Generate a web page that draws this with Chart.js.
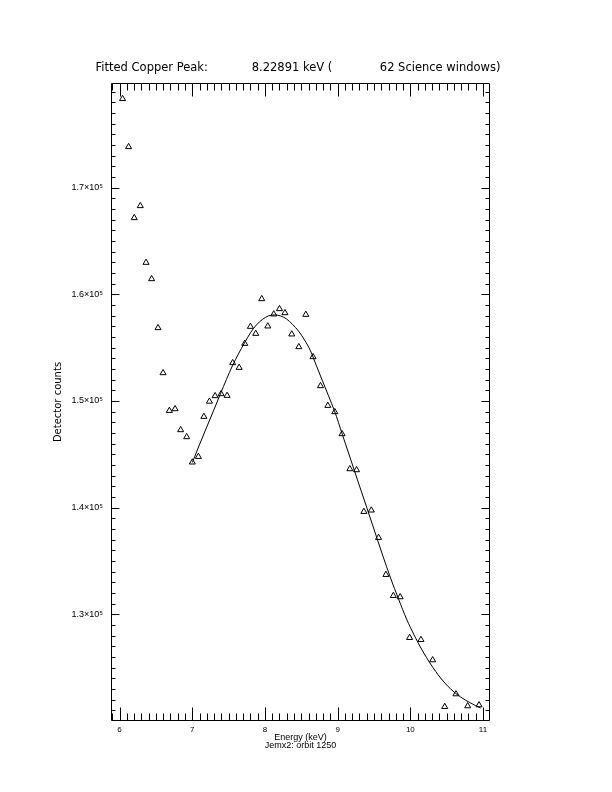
<!DOCTYPE html>
<html>
<head>
<meta charset="utf-8">
<script src="https://cdn.jsdelivr.net/npm/chart.js@4"></script>
<style>
  html, body { margin: 0; padding: 0; background: #fff; }
  canvas { display: block; }
</style>
</head>
<body>
<canvas id="peakChart" width="612" height="792"></canvas>
<script>
// measured spectrum (triangles)
const energies = [6.041, 6.124, 6.202, 6.285, 6.364, 6.441, 6.529, 6.598, 6.685, 6.763,
  6.840, 6.923, 7.001, 7.084, 7.160, 7.236, 7.314, 7.397, 7.479, 7.556,
  7.645, 7.722, 7.800, 7.873, 7.956, 8.039, 8.121, 8.200, 8.275, 8.369,
  8.466, 8.562, 8.661, 8.764, 8.865, 8.961, 9.061, 9.168, 9.260, 9.361,
  9.463, 9.563, 9.664, 9.766, 9.860, 9.990, 10.146, 10.307, 10.473, 10.628,
  10.789, 10.945];
const counts = [178317, 173816, 167159, 168284, 162968, 161439, 156845, 152625, 149090, 149250,
  147281, 146625, 144252, 144777, 148528, 149953, 150469, 150656, 150497, 153563,
  153122, 155373, 156967, 156310, 159564, 157004, 158129, 158626, 158251, 156254,
  155063, 158092, 154126, 151406, 149559, 148969, 146906, 143624, 143530, 139620,
  139752, 137182, 133713, 131744, 131622, 127806, 127618, 125715, 121336, 122527,
  121402, 121496];

// fitted peak curve
const fitEnergies = [7.001, 7.098, 7.194, 7.291, 7.387, 7.470, 7.552, 7.635, 7.718, 7.800,
  7.883, 7.966, 8.048, 8.131, 8.213, 8.296, 8.379, 8.461, 8.544, 8.627,
  8.709, 8.792, 8.875, 8.957, 9.067, 9.177, 9.287, 9.398, 9.508, 9.618,
  9.728, 9.838, 9.948, 10.059, 10.169, 10.279, 10.417, 10.555, 10.692, 10.830,
  10.968];
const fitCounts = [144233, 145874, 147468, 149062, 150656, 152016, 153282, 154407, 155438, 156376,
  157126, 157642, 157970, 158064, 157970, 157689, 157173, 156563, 155720, 154688,
  153282, 151875, 150469, 149062, 146812, 144562, 142311, 140061, 137810, 135560,
  133403, 131434, 129559, 127965, 126559, 125340, 124027, 122996, 122245, 121683,
  121214];

const xTicks = [6, 7, 8, 9, 10, 11];
const yTicks = [130000, 140000, 150000, 160000, 170000];
const xRange = [5.882, 11.096];
const yRange = [120000, 179800];

const titleText = 'Fitted Copper Peak:            8.22891 keV (             62 Science windows)';

// box around the plot with inward ticks on all four sides (IDL style)
const frameTicks = {
  id: 'frameTicks',
  afterDatasetsDraw(chart) {
    const {ctx, chartArea: a, scales: {x, y}} = chart;
    const L = Math.round(a.left) + 0.5, R = Math.round(a.right) - 0.5;
    const T = Math.round(a.top) + 0.5, B = Math.round(a.bottom) - 0.5;
    ctx.save();
    ctx.strokeStyle = '#000';
    ctx.lineWidth = 1;
    ctx.beginPath();
    ctx.rect(L, T, R - L, B - T);
    for (let i = 59; i <= 110; i++) {
      const px = Math.round(x.getPixelForValue(i / 10)) + 0.5;
      const len = i % 10 === 0 ? 13 : 7;
      ctx.moveTo(px, B); ctx.lineTo(px, B - len);
      ctx.moveTo(px, T); ctx.lineTo(px, T + len);
    }
    for (let v = 121; v <= 179; v++) {
      const py = Math.round(y.getPixelForValue(v * 1000)) + 0.5;
      const len = v % 10 === 0 ? 8 : 4;
      ctx.moveTo(L, py); ctx.lineTo(L + len, py);
      ctx.moveTo(R, py); ctx.lineTo(R - len, py);
    }
    ctx.stroke();
    ctx.restore();
  }
};

const ctx = document.getElementById('peakChart').getContext('2d');
const chart = new Chart(ctx, {
  type: 'scatter',
  data: {
    datasets: [{
      label: 'counts',
      data: energies.map((e, i) => ({x: e, y: counts[i]})),
      pointStyle: 'triangle',
      pointRadius: 3.5,
      pointBorderWidth: 1,
      borderColor: '#000',
      backgroundColor: 'rgba(0,0,0,0)',
    }, {
      label: 'fit',
      data: fitEnergies.map((e, i) => ({x: e, y: fitCounts[i]})),
      showLine: true,
      pointRadius: 0,
      borderColor: '#000',
      borderWidth: 1,
      cubicInterpolationMode: 'monotone',
    }]
  },
  options: {
    responsive: false,
    animation: false,
    layout: { padding: { left: 0, right: 16, top: 0, bottom: 0 } },
    plugins: {
      legend: { display: false },
      tooltip: { enabled: false },
      title: {
        display: true,
        text: titleText,
        color: '#000',
        font: { family: 'DejaVu Sans', size: 11.5, weight: 'normal' },
        padding: { top: 61, bottom: 8.2 },
      }
    },
    scales: {
      x: {
        type: 'linear',
        position: 'bottom',
        min: xRange[0],
        max: xRange[1],
        grid: { display: false, drawTicks: false },
        border: { display: false },
        afterBuildTicks: s => { s.ticks = xTicks.map(v => ({value: v})); },
        afterFit: s => { s.height = 71; },
        ticks: {
          color: '#000',
          padding: 4,
          font: { family: 'Liberation Sans', size: 8 },
          callback: v => String(v),
        },
        title: {
          display: true,
          text: ['Energy (keV)', 'Jemx2: orbit 1250'],
          color: '#000',
          font: { family: 'Liberation Sans', size: 9, lineHeight: 0.85 },
          padding: { top: 0, bottom: 43 },
        }
      },
      y: {
        type: 'linear',
        min: yRange[0],
        max: yRange[1],
        grid: { display: false, drawTicks: false },
        border: { display: false },
        afterBuildTicks: s => { s.ticks = yTicks.map(v => ({value: v})); },
        afterFit: s => { s.width = 111; },
        ticks: {
          color: '#000',
          padding: 8,
          font: { family: 'Liberation Sans', size: 9 },
          callback: v => (v / 100000).toFixed(1) + '×10⁵',
        },
        title: {
          display: true,
          text: 'Detector counts',
          color: '#000',
          font: { family: 'DejaVu Sans', size: 10 },
          padding: { top: 52.5, bottom: 0 },
        }
      },
      yRight: {
        type: 'linear',
        position: 'right',
        min: yRange[0],
        max: yRange[1],
        grid: { display: false, drawTicks: false },
        border: { display: false },
        ticks: { display: false },
        afterFit: s => { s.width = 106; },
      }
    }
  },
  plugins: [frameTicks]
});
</script>
</body>
</html>
